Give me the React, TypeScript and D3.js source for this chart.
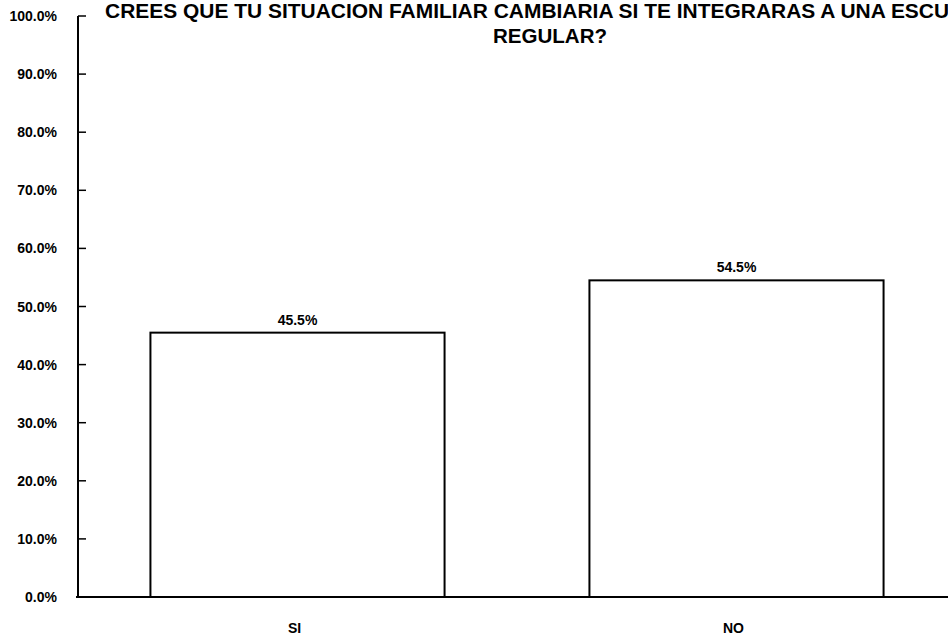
import React from "react";
import * as d3 from "d3";

const categories = ["SI", "NO"];
const values = [45.5, 54.5];
const yTicks = [0, 10, 20, 30, 40, 50, 60, 70, 80, 90, 100];
const titleLines = [
  "CREES QUE TU SITUACION FAMILIAR CAMBIARIA SI TE INTEGRARAS A UNA ESCUELA",
  "REGULAR?",
];

const W = 948;
const H = 636;
const FONT = "'Liberation Sans', Arial, sans-serif";

export default function App() {
  const y = d3.scaleLinear().domain([0, 100]).range([597, 16]);
  const x = d3
    .scaleBand<string>()
    .domain(categories)
    .range([78, 956])
    .paddingInner(0.33)
    .paddingOuter(0.165);
  const axisX = 78;

  return (
    <svg
      width={W}
      height={H}
      style={{ position: "absolute", left: 0, top: 0, background: "#fff" }}
      fontFamily={FONT}
    >
      <rect x={0} y={0} width={W} height={H} fill="#fff" />
      {/* title */}
      <text
        x={105}
        y={18}
        fontWeight="bold"
        fontSize={20}
        fill="#000"
        textLength={886}
        lengthAdjust="spacingAndGlyphs"
      >
        {titleLines[0]}
      </text>
      <text
        x={493}
        y={43}
        fontWeight="bold"
        fontSize={20}
        fill="#000"
        textLength={114}
        lengthAdjust="spacingAndGlyphs"
      >
        {titleLines[1]}
      </text>
      {/* y axis */}
      <line x1={axisX} x2={axisX} y1={y(100)} y2={y(0)} stroke="#000" strokeWidth={2} />
      {yTicks.map((t) => (
        <g key={t}>
          <line x1={axisX} x2={axisX + 8} y1={y(t)} y2={y(t)} stroke="#000" strokeWidth={1.5} />
          <text
            x={57}
            y={y(t) + 5}
            textAnchor="end"
            fontWeight="bold"
            fontSize={14}
            fill="#000"
          >
            {t.toFixed(1) + "%"}
          </text>
        </g>
      ))}
      {/* bars */}
      {categories.map((c, i) => (
        <g key={c}>
          <rect
            x={x(c)!}
            y={y(values[i])}
            width={x.bandwidth()}
            height={y(0) - y(values[i])}
            fill="#fff"
            stroke="#000"
            strokeWidth={2}
          />
          <text
            x={x(c)! + x.bandwidth() / 2}
            y={y(values[i]) - 8}
            textAnchor="middle"
            fontWeight="bold"
            fontSize={14}
            fill="#000"
          >
            {values[i].toFixed(1) + "%"}
          </text>
          <text
            x={x(c)! + x.bandwidth() / 2 - 3}
            y={633}
            textAnchor="middle"
            fontWeight="bold"
            fontSize={14}
            fill="#000"
          >
            {c}
          </text>
        </g>
      ))}
      {/* x axis line */}
      <line x1={axisX - 2} x2={W} y1={y(0)} y2={y(0)} stroke="#000" strokeWidth={2} />
    </svg>
  );
}
